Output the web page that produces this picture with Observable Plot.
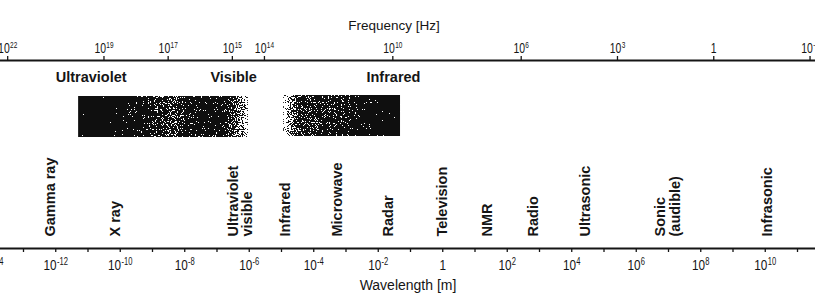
<!DOCTYPE html>
<html>
<head>
<meta charset="utf-8">
<script src="https://cdn.jsdelivr.net/npm/d3@7"></script>
<script src="https://cdn.jsdelivr.net/npm/@observablehq/plot@0.6"></script>
<style>
  html, body { margin: 0; padding: 0; background: #fff; }
  #chart { width: 815px; height: 298px; overflow: hidden; background: #fff; }
  #chart svg { display: block; }
</style>
</head>
<body>
<div id="chart"></div>
<script>
// ---------- data ----------
// Frequency axis (Hz): tick values as powers of ten
const freqTickExps = [22, 19, 17, 15, 14, 10, 6, 3, 0, -3];
// Bands shown over the frequency axis
const bandNames = ["Ultraviolet", "Visible", "Infrared"];
const bandFreqExps = [19.4, 14.96, 9.98];
// Shaded blocks (frequency exponents, from -> to)
const blockIds = ["uv", "ir"];
const blockFromExps = [19.79, 13.4];
const blockToExps = [14.5, 9.76];
// Wavelength axis (m)
const waveTickExps = [-14, -13, -12, -11, -10, -9, -8, -7, -6, -5, -4, -3, -2, -1, 0, 1, 2, 3, 4, 5, 6, 7, 8, 9, 10, 11];
const waveLabelExps = [-14, -12, -10, -8, -6, -4, -2, 0, 2, 4, 6, 8, 10];
// Regions along the wavelength axis
const regionNames = ["Gamma ray", "X ray", "Ultraviolet\nvisible", "Infrared", "Microwave", "Radar",
  "Television", "NMR", "Radio", "Ultrasonic", "Sonic\n(audible)", "Infrasonic"];
const regionWaveExps = [-12.16, -10.15, -6.27, -4.88, -3.26, -1.68, 0, 1.39, 2.81, 4.43, 6.98, 10.07];

// ---------- helpers ----------
function fmt(v) {
  const e = Math.round(Math.log10(v));
  return e === 0 ? "1" : "10^" + e;
}
const pow = e => Math.pow(10, e);
const font = "'Liberation Sans', Arial, sans-serif";
const ink = "#151515";

const bands = bandNames.map((name, i) => ({name, f: pow(bandFreqExps[i])}));
const blocks = blockIds.map((id, i) => ({id, from: pow(blockFromExps[i]), to: pow(blockToExps[i])}));
const regions = regionNames.map((name, i) => ({name, w: pow(regionWaveExps[i])}));

// turn "10^e" labels into 10 + raised exponent, and condense them
function styleTickLabels(svg, size, supSize, squeeze) {
  d3.select(svg).selectAll("text").each(function () {
    const t = this.textContent;
    const m = /^10\^(-?\d+)$/.exec(t);
    if (!m && t !== "1") return;
    this.setAttribute("font-size", size + "px");
    this.style.fontSize = size + "px";
    if (m) {
      this.textContent = "10";
      d3.select(this).append("tspan").attr("dy", "-0.48em").attr("dx", "0.5").style("font-size", supSize + "px").text(m[1]);
    }
    const tr = this.getAttribute("transform");
    if (tr) this.setAttribute("transform", tr + ` scale(${squeeze},1)`);
  });
}

// ---------- top: frequency ----------
const freqPlot = Plot.plot({
  width: 815, height: 150,
  marginTop: 60, marginBottom: 0, marginLeft: 0, marginRight: 0,
  x: {type: "log", domain: [pow(22.224), pow(-3.17)], range: [0, 815]},
  y: {domain: [0, 90], range: [60, 150], axis: null},
  style: {fontFamily: font, background: "white", color: ink, overflow: "visible"},
  marks: [
    Plot.ruleY([0], {stroke: ink, strokeWidth: 1.8}),
    Plot.axisX({anchor: "top", ticks: freqTickExps.map(pow), tickFormat: fmt, tickSize: 5,
      tickPadding: 3, fontSize: 14, label: null, stroke: ink, strokeWidth: 1.3}),
    Plot.rect(blocks.filter(d => d.id === "uv"), {x1: "from", x2: "to", y1: 36, y2: 77, fill: "url(#grad-uv)"}),
    Plot.rect(blocks.filter(d => d.id === "ir"), {x1: "from", x2: "to", y1: 35, y2: 76, fill: "url(#grad-ir)"}),
    Plot.text(bands, {x: "f", y: 17, text: "name", fontWeight: "bold", fontSize: 14.5, fill: ink}),
    Plot.text(["Frequency [Hz]"], {frameAnchor: "top", dy: -40, dx: -14, fontSize: 13.5, fill: ink})
  ]
});
d3.select(freqPlot).insert("defs", ":first-child").html(`
  <linearGradient id="grad-uv" x1="0" x2="1" y1="0" y2="0">
    <stop offset="0" stop-color="#000"/>
    <stop offset="0.22" stop-color="#0c0c0c"/>
    <stop offset="0.4" stop-color="#333"/>
    <stop offset="0.56" stop-color="#5a5a5a"/>
    <stop offset="0.68" stop-color="#2a2a2a"/>
    <stop offset="0.84" stop-color="#222"/>
    <stop offset="0.93" stop-color="#666"/>
    <stop offset="1" stop-color="#aaa"/>
  </linearGradient>
  <linearGradient id="grad-ir" x1="0" x2="1" y1="0" y2="0">
    <stop offset="0" stop-color="#c8c8c8"/>
    <stop offset="0.06" stop-color="#888"/>
    <stop offset="0.14" stop-color="#4a4a4a"/>
    <stop offset="0.5" stop-color="#3a3a3a"/>
    <stop offset="0.7" stop-color="#1e1e1e"/>
    <stop offset="0.85" stop-color="#080808"/>
    <stop offset="1" stop-color="#000"/>
  </linearGradient>
  <filter id="halftone" x="0" y="0" width="1" height="1" color-interpolation-filters="sRGB">
    <feTurbulence type="fractalNoise" baseFrequency="0.85" numOctaves="1" seed="7" result="noise"/>
    <feColorMatrix in="noise" type="matrix" result="n2"
      values="2 0 0 0 -0.5  2 0 0 0 -0.5  2 0 0 0 -0.5  0 0 0 0 1"/>
    <feComposite in="SourceGraphic" in2="n2" operator="arithmetic" k1="0" k2="1" k3="1" k4="-0.5" result="sum"/>
    <feComponentTransfer in="sum" result="bw">
      <feFuncR type="discrete" tableValues="0.06 1"/>
      <feFuncG type="discrete" tableValues="0.06 1"/>
      <feFuncB type="discrete" tableValues="0.06 1"/>
      <feFuncA type="discrete" tableValues="1 1"/>
    </feComponentTransfer>
    <feComposite in="bw" in2="SourceAlpha" operator="in"/>
  </filter>`);
d3.select(freqPlot).selectAll('[fill^="url(#grad"]').attr("filter", "url(#halftone)");
styleTickLabels(freqPlot, 14.5, 9, 0.72);

// ---------- bottom: wavelength ----------
const wavePlot = Plot.plot({
  width: 815, height: 148,
  marginTop: 0, marginBottom: 50, marginLeft: 0, marginRight: 0,
  x: {type: "log", domain: [pow(-13.713), pow(11.558)], range: [0, 815]},
  y: {domain: [0, 148], range: [0, 148], axis: null},
  style: {fontFamily: font, background: "white", color: ink, overflow: "visible"},
  marks: [
    Plot.ruleY([98], {stroke: ink, strokeWidth: 1.8}),
    Plot.axisX({anchor: "bottom", ticks: waveTickExps.map(pow), tickFormat: () => "", tickSize: 4,
      label: null, stroke: ink, strokeWidth: 1.3}),
    Plot.axisX({anchor: "bottom", ticks: waveLabelExps.map(pow), tickFormat: fmt, tickSize: 0,
      tickPadding: 10, fontSize: 15.5, label: null}),
    Plot.text(regions, {x: "w", y: 86, text: "name", rotate: -90, textAnchor: "start",
      fontWeight: "bold", fontSize: 14.5, lineHeight: 1.0, fill: ink}),
    Plot.text(["Wavelength [m]"], {frameAnchor: "bottom", dy: 41, dx: 0, fontSize: 14, fill: ink})
  ]
});
styleTickLabels(wavePlot, 15.5, 10, 0.76);

const chart = document.getElementById("chart");
chart.appendChild(freqPlot);
chart.appendChild(wavePlot);
</script>
</body>
</html>
